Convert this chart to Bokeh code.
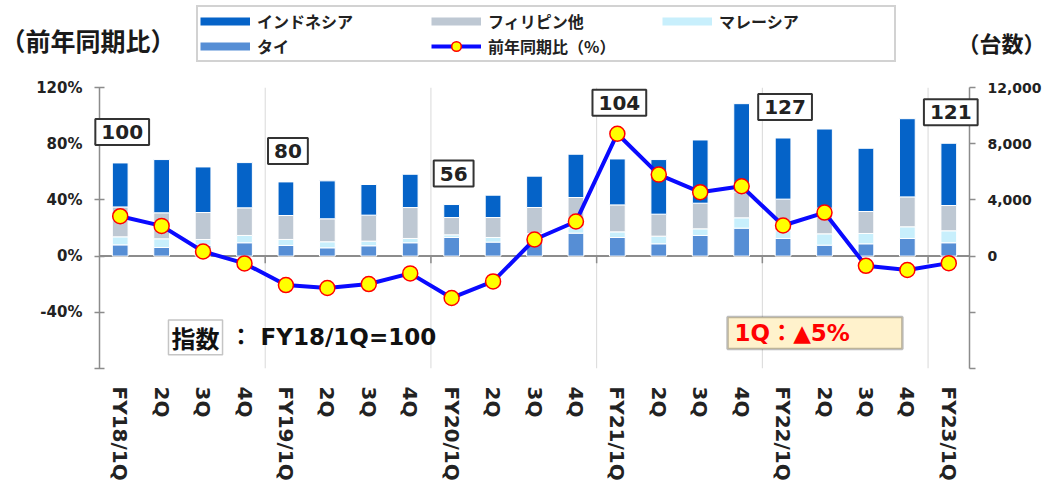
import math
from bokeh.plotting import figure
from bokeh.layouts import column
from bokeh.models import (ColumnDataSource, FactorRange, Range1d, LinearAxis, FixedTicker,
                          Span, Legend, LegendItem, Label, BoxAnnotation,
                          PrintfTickFormatter, NumeralTickFormatter, CustomJSTickFormatter)
from bokeh.core.properties import value
from bokeh.embed import file_html
from bokeh.resources import INLINE

# ---------------- data ----------------
tick_labels = ["FY18/1Q", "2Q", "3Q", "4Q",
               "FY19/1Q", "2Q", "3Q", "4Q",
               "FY20/1Q", "2Q", "3Q", "4Q",
               "FY21/1Q", "2Q", "3Q", "4Q",
               "FY22/1Q", "2Q", "3Q", "4Q",
               "FY23/1Q"]
tai = [800, 615, 780, 950, 760, 590, 735, 950, 1325, 995, 1200, 1635,
       1325, 875, 1470, 1990, 1255, 780, 875, 1255, 950]
malaysia = [570, 615, 400, 520, 425, 430, 330, 305, 190, 330, 410, 450,
            400, 545, 470, 735, 560, 805, 735, 830, 850]
philippines = [2130, 1850, 1920, 1965, 1705, 1635, 1850, 2200, 1230, 1420, 1850, 2085,
               1920, 1565, 1825, 1850, 2240, 1825, 1565, 2130, 1800]
indonesia = [3130, 3790, 3245, 3220, 2390, 2700, 2180, 2370, 925, 1590, 2230, 3080,
             3270, 3885, 4500, 6275, 4350, 5635, 4500, 5565, 4430]
yoy = [28.4, 21.5, 3.3, -5.2, -20.6, -22.7, -19.9, -12.3, -29.8, -18.0, 11.8, 24.6,
       87.1, 58.0, 45.5, 49.7, 21.8, 31.0, -6.9, -9.9, -5.0]
index_labels = ["100", "80", "56", "104", "127", "121"]

pct_ticks = [-80, -40, 0, 40, 80, 120]
pct_tick_labels = ["", "-40%", "0%", "40%", "80%", "120%"]
unit_ticks = [-8000, -4000, 0, 4000, 8000, 12000]
unit_tick_labels = ["", "", "0", "4,000", "8,000", "12,000"]

series_names = ["インドネシア", "フィリピン他", "マレーシア", "タイ"]
line_name = "前年同期比（%）"

# ---------------- derived ----------------
ids = []
year = ""
for lab in tick_labels:
    if lab.startswith("FY"):
        year = lab.split("/")[0]
        ids.append(lab)
    else:
        ids.append(year + "/" + lab)
boundaries = [i for i, l in enumerate(tick_labels) if l.startswith("FY") and i > 0]
fy_idx = [i for i, l in enumerate(tick_labels) if l.startswith("FY")]
totals = [a + b + c + d for a, b, c, d in zip(tai, malaysia, philippines, indonesia)]

src = ColumnDataSource(dict(cat=ids, tai=tai, malaysia=malaysia, philippines=philippines,
                            indonesia=indonesia, yoy=yoy))
idx_src = ColumnDataSource(dict(cat=[ids[i] for i in fy_idx],
                                ypos=[max(totals[i], yoy[i] * 100) for i in fy_idx],
                                label=index_labels))
tick_src = ColumnDataSource(dict(x=boundaries, y0=[0] * len(boundaries),
                                 y1=[-5] * len(boundaries)))

C_INDO = "#0563C8"
C_PHIL = "#BEC8D3"
C_MAL = "#C8EFFC"
C_TAI = "#568ED5"
C_LINE = "#0A0AFF"
TXT = "#222222"
NUM_FONT = "DejaVu Sans"
JP_FONT = "Noto Sans CJK JP"
MIX_FONT = "DejaVu Sans, Noto Sans CJK JP"

W = 1046
HEADER_H = 77
NAN = float("nan")

# ---------------- header (legend + axis titles) ----------------
hdr = figure(width=W, height=HEADER_H, x_range=Range1d(0, 1), y_range=Range1d(0, 1),
             x_axis_type=None, y_axis_type=None, min_border=0, frame_align=False,
             output_backend="svg", toolbar_location=None, outline_line_color=None,
             background_fill_color="white", border_fill_color="white")
hdr.xgrid.visible = False
hdr.ygrid.visible = False
d_indo = hdr.line(x=[0], y=[NAN], line_color=C_INDO, line_width=8)
d_phil = hdr.line(x=[0], y=[NAN], line_color=C_PHIL, line_width=8)
d_mal = hdr.line(x=[0], y=[NAN], line_color=C_MAL, line_width=8)
d_tai = hdr.line(x=[0], y=[NAN], line_color=C_TAI, line_width=8)
d_line = hdr.line(x=[0], y=[NAN], line_color=C_LINE, line_width=4)
d_mark = hdr.scatter(x=[0], y=[NAN], size=15, fill_color="#FFFF00",
                     line_color="#FF0000", line_width=1.5)
legend = Legend(items=[LegendItem(label=series_names[0], renderers=[d_indo]),
                       LegendItem(label=series_names[1], renderers=[d_phil]),
                       LegendItem(label=series_names[2], renderers=[d_mal]),
                       LegendItem(label=series_names[3], renderers=[d_tai]),
                       LegendItem(label=line_name, renderers=[d_line, d_mark])],
                location=(196, 15), orientation="horizontal", ncols=3,
                padding=2, spacing=1, margin=0,
                glyph_width=50, glyph_height=24, label_height=24, label_width=173,
                label_standoff=7,
                label_text_font=JP_FONT, label_text_font_style="bold",
                label_text_font_size="16px", label_text_color=TXT,
                border_line_color="#A6A6A6", border_line_width=2,
                background_fill_color="white", background_fill_alpha=1)
hdr.add_layout(legend)
hdr.add_layout(Label(x=0, y=38, x_units="screen", y_units="screen",
                     text="（前年同期比）", text_font=JP_FONT, text_font_style="bold",
                     text_font_size="25px", text_baseline="middle", text_color="#1A1A1A"))
hdr.add_layout(Label(x=957, y=36, x_units="screen", y_units="screen",
                     text="（台数）", text_font=JP_FONT, text_font_style="bold",
                     text_font_size="22px", text_baseline="middle", text_color="#1A1A1A"))

# ---------------- main chart ----------------
p = figure(x_range=FactorRange(factors=ids, range_padding=0),
           y_range=Range1d(-80, 120),
           frame_width=870, frame_height=281,
           min_border_left=99, min_border_right=77,
           min_border_top=10, min_border_bottom=117, frame_align=False,
           output_backend="svg", toolbar_location=None,
           outline_line_color=None, background_fill_color="white",
           border_fill_color="white")
p.extra_y_ranges = {"right": Range1d(-8000, 12000)}
p.xgrid.visible = False
p.ygrid.visible = False

for b in boundaries:
    p.add_layout(Span(location=b, dimension="height", line_color="#D9D9D9",
                      line_width=1, level="underlay"))
p.add_layout(Span(location=0, dimension="width", line_color="#8C8C8C",
                  line_width=2, level="underlay"))
p.segment(x0="x", y0="y0", x1="x", y1="y1", source=tick_src,
          line_color="#8C8C8C", line_width=1.5)

p.vbar_stack(["tai", "malaysia", "philippines", "indonesia"], x="cat", width=0.38,
             color=[C_TAI, C_MAL, C_PHIL, C_INDO], line_color="white", line_width=1,
             source=src, y_range_name="right")

p.line("cat", "yoy", source=src, line_color=C_LINE, line_width=4)
p.scatter("cat", "yoy", source=src, size=15, fill_color="#FFFF00",
          line_color="#FF0000", line_width=1.5)

p.text(x="cat", y="ypos", text="label", source=idx_src, y_range_name="right",
       text_align="center", text_baseline="middle", text_font=value(NUM_FONT),
       text_font_style="bold", text_font_size="20px", text_color=TXT,
       y_offset=-31, x_offset=2, level="overlay",
       background_fill_color="white", border_line_color="#333333",
       border_line_width=2, padding=6)

ax = p.yaxis[0]
ax.ticker = FixedTicker(ticks=pct_ticks)
ax.formatter = PrintfTickFormatter(format="%d%%")
ax.major_label_overrides = {t: l for t, l in zip(pct_ticks, pct_tick_labels)}
ax.axis_line_color = "#8C8C8C"
ax.axis_line_width = 1.5
ax.major_tick_line_color = "#8C8C8C"
ax.major_tick_line_width = 1.5
ax.major_tick_in = 5
ax.major_tick_out = 5
ax.minor_tick_line_color = None
ax.major_label_standoff = 12
ax.major_label_text_font = NUM_FONT
ax.major_label_text_font_style = "bold"
ax.major_label_text_font_size = "15px"
ax.major_label_text_color = TXT

rax = LinearAxis(y_range_name="right", ticker=FixedTicker(ticks=unit_ticks),
                 formatter=NumeralTickFormatter(format="0,0"))
rax.major_label_overrides = {t: l for t, l in zip(unit_ticks, unit_tick_labels)}
rax.axis_line_color = "#8C8C8C"
rax.axis_line_width = 1.5
rax.major_tick_line_color = "#8C8C8C"
rax.major_tick_line_width = 1.5
rax.major_tick_in = 0
rax.major_tick_out = 6
rax.minor_tick_line_color = None
rax.major_label_standoff = 12
rax.major_label_text_font = NUM_FONT
rax.major_label_text_font_style = "bold"
rax.major_label_text_font_size = "14px"
rax.major_label_text_color = TXT
p.add_layout(rax, "right")

xax = p.xaxis[0]
xax.axis_line_color = None
xax.major_tick_line_color = None
xax.major_label_orientation = -math.pi / 2
xax.major_label_standoff = 12
xax.major_label_text_font = NUM_FONT
xax.major_label_text_font_style = "bold"
xax.major_label_text_font_size = "20px"
xax.major_label_text_color = TXT
xax.formatter = CustomJSTickFormatter(args=dict(ids=ids, labs=tick_labels),
                                      code="return labs[ids.indexOf(tick)];")

# 指数 annotation
p.add_layout(BoxAnnotation(left=1.665, right=2.97, top=-45.5, bottom=-70.3,
                           fill_color="white", fill_alpha=1,
                           line_color="#404040", line_width=1.5))
p.add_layout(Label(x=2.32, y=-57.9, text="指数", text_align="center",
                   text_baseline="middle", text_font=JP_FONT, text_font_style="bold",
                   text_font_size="24px", text_color="#111111"))
p.add_layout(Label(x=3.14, y=-57.9, text="： FY18/1Q=100", text_align="left",
                   text_baseline="middle", text_font=MIX_FONT, text_font_style="bold",
                   text_font_size="23px", text_color="#111111"))

# 1Q annotation
p.add_layout(BoxAnnotation(left=15.16, right=19.38, top=-43.3, bottom=-66.1,
                           fill_color="#FFF2CC", fill_alpha=1,
                           line_color="#262626", line_width=2.5))
p.add_layout(Label(x=15.33, y=-54.7, text="1Q：▲5%", text_align="left",
                   text_baseline="middle", text_font=MIX_FONT, text_font_style="bold",
                   text_font_size="23px", text_color="#FF0000"))

layout = column(hdr, p, spacing=0)
open("out.html", "w").write(file_html(layout, INLINE))
